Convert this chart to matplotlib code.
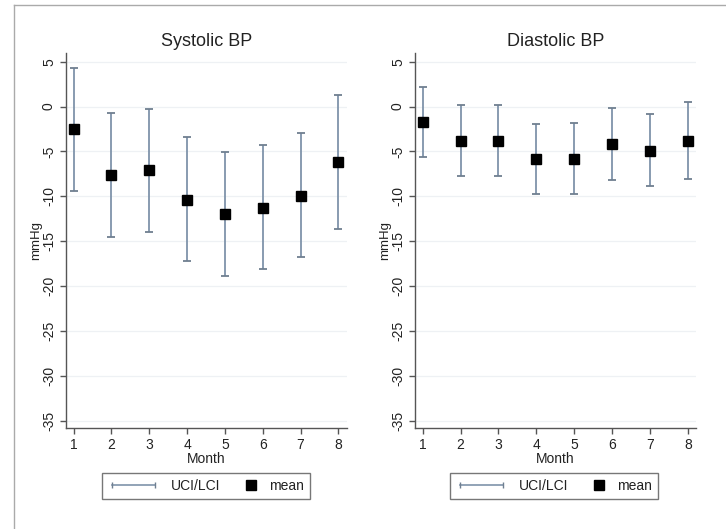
import matplotlib
matplotlib.use("Agg")
import matplotlib.pyplot as plt
from matplotlib.lines import Line2D
from matplotlib.legend_handler import HandlerLine2D

plt.rcParams['font.family'] = ['Liberation Sans', 'DejaVu Sans']

months = [1, 2, 3, 4, 5, 6, 7, 8]

sys_mean = [-2.5, -7.6, -7.1, -10.4, -12.0, -11.3, -10.0, -6.2]
sys_uci = [4.3, -0.7, -0.3, -3.4, -5.1, -4.3, -3.0, 1.3]
sys_lci = [-9.4, -14.5, -14.0, -17.2, -18.9, -18.1, -16.8, -13.7]

dia_mean = [-1.7, -3.8, -3.8, -5.9, -5.8, -4.2, -4.9, -3.8]
dia_uci = [2.2, 0.2, 0.2, -1.9, -1.8, -0.2, -0.8, 0.5]
dia_lci = [-5.6, -7.7, -7.7, -9.8, -9.7, -8.2, -8.8, -8.1]

titles = ["Systolic BP", "Diastolic BP"]
yticks = [5, 0, -5, -10, -15, -20, -25, -30, -35]

ci_color = '#7f93aa'
cap_color = '#6f7f90'
spine_color = '#555555'

fig = plt.figure(figsize=(7.26, 5.29), dpi=100)

positions = [[0.0905, 0.1904, 0.387, 0.710], [0.5712, 0.1904, 0.388, 0.710]]
legend_x = [0.2836, 0.7629]
data = [(sys_mean, sys_uci, sys_lci), (dia_mean, dia_uci, dia_lci)]


class RightMarkerHandler(HandlerLine2D):
    def get_xdata(self, legend, xdescent, ydescent, width, height, fontsize):
        pos = width - xdescent - 5
        return [pos, pos], [pos]


for i, (mean, uci, lci) in enumerate(data):
    ax = fig.add_axes(positions[i])
    ax.vlines(months, lci, uci, color=ci_color, lw=1.3, zorder=2)
    ax.plot(months, uci, ls='none', marker='_', ms=6, mew=1.3, color=cap_color, zorder=2)
    ax.plot(months, lci, ls='none', marker='_', ms=6, mew=1.3, color=cap_color, zorder=2)
    ax.plot(months, mean, ls='none', marker='s', ms=7.5, color='black', zorder=3)

    ax.set_xlim(0.79, 8.22)
    ax.set_ylim(-35.85, 6.0)
    ax.set_yticks(yticks)
    ax.set_xticks(months)
    ax.set_yticklabels([str(t) for t in yticks], rotation=90, va='center')
    ax.tick_params(axis='both', labelsize=10, length=4, width=1, color=spine_color,
                   labelcolor='#222222', pad=3)
    for s in ['top', 'right']:
        ax.spines[s].set_visible(False)
    for s in ['left', 'bottom']:
        ax.spines[s].set_color(spine_color)
        ax.spines[s].set_linewidth(1.0)
    ax.grid(axis='y', color='#eef1f4', lw=0.9)
    ax.set_axisbelow(True)
    ax.set_xlabel('Month', fontsize=10, labelpad=0, color='#222222')
    ax.set_ylabel('mmHg', fontsize=9.5, labelpad=0, color='#222222')
    ax.set_title(titles[i], fontsize=13, color='#222222', pad=5)

    h_ci = Line2D([0, 1], [0, 0], color=ci_color, lw=1.2, marker='|', ms=5,
                  markeredgecolor=cap_color)
    h_mean = Line2D([0], [0], ls='none', marker='s', ms=6.5, color='black')
    leg = fig.legend([h_ci, h_mean], ['UCI/LCI', 'mean'], ncol=2,
                     loc='center', bbox_to_anchor=(legend_x[i], 0.0813),
                     handler_map={h_ci: HandlerLine2D(numpoints=2),
                                  h_mean: RightMarkerHandler(numpoints=1)},
                     fontsize=10, frameon=True, fancybox=False, shadow=False,
                     edgecolor='#555555', handlelength=3.7, handletextpad=0.8,
                     columnspacing=-1.0, borderpad=0.45, borderaxespad=0)
    leg.get_frame().set_linewidth(1.0)
    for t in leg.get_texts():
        t.set_color('#222222')

# outer frame (partially visible)
fig.add_artist(Line2D([14 / 726, 1.0], [1 - 5 / 529, 1 - 5 / 529], color='#aaaaaa', lw=1.0,
                      transform=fig.transFigure))
fig.add_artist(Line2D([14 / 726, 14 / 726], [0.0, 1 - 5 / 529], color='#aaaaaa', lw=1.0,
                      transform=fig.transFigure))

fig.savefig('out.png', dpi=100)
